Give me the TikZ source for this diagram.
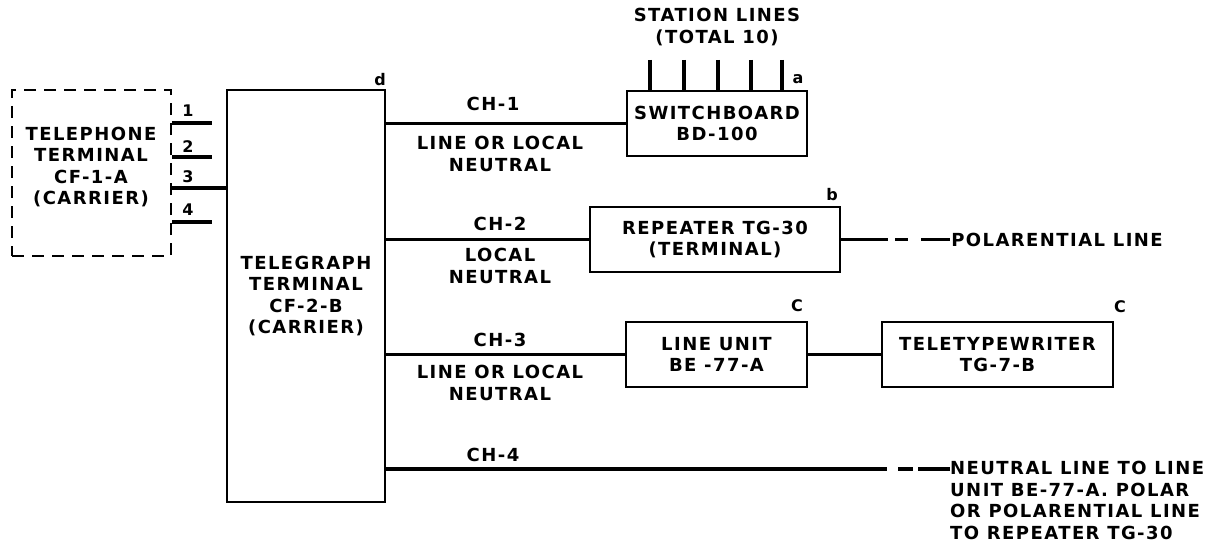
\documentclass[tikz,border=0pt]{standalone}
\usepackage{fontspec}
\setmainfont{DejaVu Sans}[LetterSpace=8]
\usetikzlibrary{positioning}
\newcommand{\lett}{\fontsize{18}{21.5}\selectfont\bfseries}
\newcommand{\tagfont}{\fontsize{16}{18}\selectfont\bfseries}

\begin{document}
\begin{tikzpicture}[x=1pt,y=-1pt,
  unit/.style={draw,line width=2.2pt,align=center,font=\lett,inner sep=0pt},
  txt/.style={align=center,font=\lett,inner sep=0pt},
  tag/.style={font=\tagfont,inner sep=0pt},
  wire/.style={line width=3.6pt}]
  \useasboundingbox (0,0) rectangle (1227,543);
  % telephone terminal (dashed) and its four leads
  \node[unit,line width=2.6pt,dash pattern=on 12pt off 8pt,minimum width=159,minimum height=166] (phone) at (91.5,173) {};
  \node[txt] (phonetxt) at (91,167) {TELEPHONE\\TERMINAL\\CF-1-A\\(CARRIER)};
  % telegraph terminal
  \node[unit,minimum width=158,minimum height=412] (tel) at (306,296) {TELEGRAPH\\TERMINAL\\CF-2-B\\(CARRIER)};
  \node[tag] (d) at (380,80) {d};
  \foreach \ly/\lend/\lnum in {123/212/1,157/212/2,222/212/4} {
    \coordinate (lead\lnum) at (\lend,\ly);
    \draw[wire] (phone.east |- lead\lnum) -- (lead\lnum);
  }
  \coordinate (lead3) at (226,188);
  \draw[wire] (phone.east |- lead3) -- (lead3 -| tel.west);
  \foreach \ny/\lnum in {111/1,147/2,177/3,210/4}
    \node[tag] (num\lnum) at (188,\ny) {\lnum};
  % CH-1 : switchboard
  \node[unit,minimum width=180,minimum height=65] (sw) at (717,123.5) {SWITCHBOARD\\BD-100};
  \node[tag] (a) at (798,79) {a};
  \node[txt] (station) at (717,27) {STATION LINES\\(TOTAL 10)};
  \foreach \sx in {650,684,718,751,782}
    \draw[wire] (\sx,60) -- (\sx,0 |- sw.north);
  \draw[wire] (tel.east |- sw.west) -- (sw.west);
  \node[txt] (ch1) at (493,104) {CH-1};
  \node[txt] (ch1use) at (500,154) {LINE OR LOCAL\\NEUTRAL};
  % CH-2 : repeater
  \node[unit,minimum width=250,minimum height=65] (rep) at (715,239.5) {REPEATER TG-30\\(TERMINAL)};
  \node[tag] (b) at (832,195) {b};
  \draw[wire] (tel.east |- rep.west) -- (rep.west);
  \node[txt] (ch2) at (500,224) {CH-2};
  \node[txt] (ch2use) at (500,266) {LOCAL\\NEUTRAL};
  \draw[wire] (rep.east) -- ++(47,0) coordinate (polend);
  \node[txt,anchor=west] (poltxt) at ([xshift=63]polend) {POLARENTIAL LINE};
  \draw[wire,dash pattern=on 0pt off 7pt on 13pt off 13pt on 22pt] (polend) -- (poltxt.west);
  % CH-3 : line unit and teletypewriter
  \node[unit,minimum width=181,minimum height=65] (lu) at (716.5,354.5) {LINE UNIT\\BE -77-A};
  \node[tag] (c1) at (797,306) {C};
  \node[unit,minimum width=231,minimum height=65] (tty) at (997.5,354.5) {TELETYPEWRITER\\TG-7-B};
  \node[tag] (c2) at (1120,307) {C};
  \draw[wire] (tel.east |- lu.west) -- (lu.west);
  \draw[wire] (lu) -- (tty);
  \node[txt] (ch3) at (500,340) {CH-3};
  \node[txt] (ch3use) at (500,383) {LINE OR LOCAL\\NEUTRAL};
  % CH-4 : open line
  \node[txt,align=left,anchor=north west] (neutxt) at (950,461) {NEUTRAL LINE TO LINE\\UNIT BE-77-A. POLAR\\OR POLARENTIAL LINE\\TO REPEATER TG-30};
  \coordinate (ch4end) at (887,469);
  \draw[wire] (tel.east |- ch4end) -- (ch4end);
  \draw[wire,dash pattern=on 0pt off 11pt on 15pt off 5pt on 40pt] (ch4end) -- (ch4end -| neutxt.west);
  \node[txt] (ch4) at (493,455) {CH-4};
\end{tikzpicture}
\end{document}
